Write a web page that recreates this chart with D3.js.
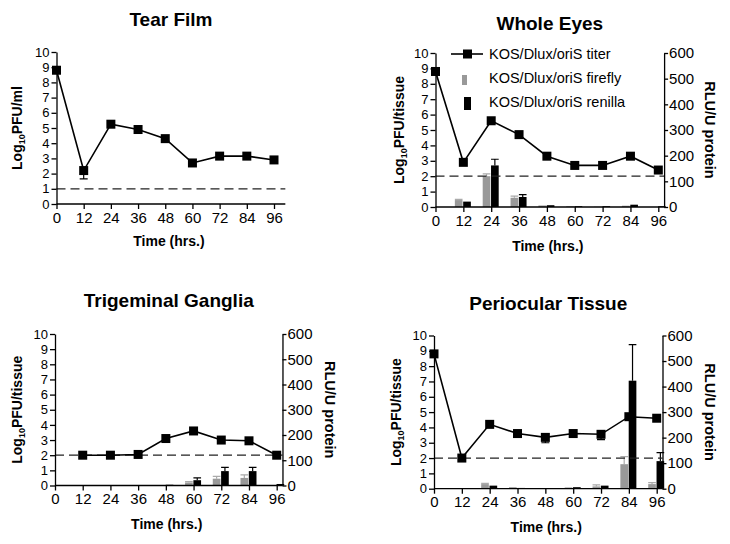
<!DOCTYPE html>
<html>
<head>
<meta charset="utf-8">
<script src="https://cdn.jsdelivr.net/npm/d3@7"></script>
<style>
body { margin: 0; background: #fff; }
svg text { font-family: "Liberation Sans", Arial, sans-serif; fill: #000; }
.axis path, .axis line { stroke: #000; stroke-width: 1.3; }
.axis text { font-size: 15px; }
.axis.left text { font-size: 13px; }
</style>
</head>
<body>
<div id="chart"></div>
<script>
// time points (hrs.)
var hours = [0, 12, 24, 36, 48, 60, 72, 84, 96];
var titerTicks = [0, 1, 2, 3, 4, 5, 6, 7, 8, 9, 10];
var rluTicks = [0, 100, 200, 300, 400, 500, 600];

// Tear film titer (log10 PFU/ml)
var tearTiter = [8.8, 2.2, 5.25, 4.9, 4.3, 2.7, 3.15, 3.15, 2.9];
var tearTiterErr = [0, 0.55, 0, 0, 0.15, 0, 0, 0, 0];

// Whole eyes
var eyeTiter = [8.8, 2.9, 5.6, 4.7, 3.3, 2.7, 2.7, 3.3, 2.4];
var eyeTiterErr = [0, 0, 0, 0, 0, 0, 0, 0, 0];
var eyeFirefly = [null, 27, 120, 36, 6, 3, 1, 5, 0];
var eyeFireflyErr = [0, 3, 9, 6, 0, 0, 0, 0, 0];
var eyeRenilla = [null, 21, 162, 39, 7, 3, 3, 9, 3];
var eyeRenillaErr = [0, 0, 24, 9, 0, 0, 0, 0, 0];

// Trigeminal ganglia
var tgTiter = [null, 2.0, 2.0, 2.05, 3.1, 3.6, 3.0, 2.95, 2.0];
var tgTiterErr = [0, 0, 0, 0, 0.15, 0, 0, 0, 0];
var tgFirefly = [null, 0, 0, 0, 0, 12, 27, 30, 1];
var tgFireflyErr = [0, 0, 0, 0, 0, 3, 9, 12, 0];
var tgRenilla = [null, 0, 0, 0, 3, 21, 57, 57, 6];
var tgRenillaErr = [0, 0, 0, 0, 0, 9, 15, 15, 0];

// Periocular tissue
var periTiter = [8.8, 2.0, 4.2, 3.6, 3.35, 3.6, 3.55, 4.7, 4.6];
var periTiterErr = [0, 0, 0, 0, 0.35, 0, 0.35, 0, 0];
var periFirefly = [null, 0, 18, 6, 2, 5, 9, 96, 18];
var periFireflyErr = [0, 0, 3, 0, 0, 0, 6, 30, 6];
var periRenilla = [null, 0, 12, 3, 2, 6, 12, 423, 108];
var periRenillaErr = [0, 0, 0, 0, 0, 0, 0, 141, 33];

var legendLabels = ["KOS/Dlux/oriS titer", "KOS/Dlux/oriS firefly", "KOS/Dlux/oriS renilla"];

var panels = [
  {title: 'Tear Film', unit: 'ml', x0: 56.5, x96: 274, xMax: 101, yTop: 52, yBot: 204, limit: 1,
   titer: tearTiter, titerErr: tearTiterErr, titleY: 26, labelX: 22, xLabY: 246, dual: false},
  {title: 'Whole Eyes', unit: 'tissue', x0: 435.5, x96: 658.3, xMax: 98.5, yTop: 53, yBot: 207, limit: 2,
   titer: eyeTiter, titerErr: eyeTiterErr, firefly: eyeFirefly, fireflyErr: eyeFireflyErr,
   renilla: eyeRenilla, renillaErr: eyeRenillaErr, titleY: 30, labelX: 404, rLabX: 705, xLabY: 251, dual: true, legend: true},
  {title: 'Trigeminal Ganglia', unit: 'tissue', x0: 55, x96: 276.7, xMax: 98.5, yTop: 334, yBot: 485.5, limit: 2,
   titer: tgTiter, titerErr: tgTiterErr, firefly: tgFirefly, fireflyErr: tgFireflyErr,
   renilla: tgRenilla, renillaErr: tgRenillaErr, titleY: 307, labelX: 22, rLabX: 325, xLabY: 529, dual: true},
  {title: 'Periocular Tissue', unit: 'tissue', x0: 434, x96: 656.7, xMax: 98.5, yTop: 335.5, yBot: 488.7, limit: 2,
   titer: periTiter, titerErr: periTiterErr, firefly: periFirefly, fireflyErr: periFireflyErr,
   renilla: periRenilla, renillaErr: periRenillaErr, titleY: 310, labelX: 401, rLabX: 705, xLabY: 532, dual: true}
];

var svg = d3.select('#chart')
  .append('svg')
  .attr('width', 730)
  .attr('height', 544);

panels.forEach(function(p) {
  var x = d3.scaleLinear()
    .domain([0, 96])
    .range([p.x0, p.x96]);
  var xEnd = x(p.xMax);
  var y = d3.scaleLinear().domain([0, 10]).range([p.yBot, p.yTop]);
  var yr = d3.scaleLinear().domain([0, 600]).range([p.yBot, p.yTop]);

  var g = svg.append('g');

  // bars
  if (p.dual) {
    var off = d3.scaleBand().domain(['firefly', 'renilla']).range([-8.5, 7.5]).paddingInner(0.08);
    var series = [
      {key: 'firefly', vals: p.firefly, err: p.fireflyErr, color: '#999', errColor: '#aaa'},
      {key: 'renilla', vals: p.renilla, err: p.renillaErr, color: '#000', errColor: '#000'}
    ];
    series.forEach(function(s) {
      var d = hours.map(function(h, i) { return {h: h, v: s.vals[i], e: s.err[i]}; })
        .filter(function(d) { return d.v != null && d.v > 0; });
      g.selectAll(null).data(d).enter().append('rect')
        .attr('x', function(d) { return x(d.h) + off(s.key); })
        .attr('y', function(d) { return yr(d.v); })
        .attr('width', off.bandwidth())
        .attr('height', function(d) { return yr(0) - yr(d.v); })
        .style('fill', s.color);
      var de = d.filter(function(d) { return d.e > 0; });
      g.selectAll(null).data(de).enter().append('path')
        .attr('d', function(d) {
          var cx = x(d.h) + off(s.key) + off.bandwidth() / 2;
          var w = off.bandwidth() / 2;
          return 'M' + cx + ',' + yr(d.v) + 'V' + yr(d.v + d.e) + 'M' + (cx - w) + ',' + yr(d.v + d.e) + 'H' + (cx + w);
        })
        .style('stroke', s.errColor)
        .style('stroke-width', 1.2)
        .style('fill', 'none');
    });
  }

  // detection limit
  g.append('line')
    .attr('x1', x(0)).attr('x2', xEnd)
    .attr('y1', y(p.limit)).attr('y2', y(p.limit))
    .style('stroke', '#222')
    .style('stroke-width', 1.3)
    .style('stroke-dasharray', '9,5');

  // axes
  g.append('g').attr('class', 'axis')
    .attr('transform', 'translate(0,' + p.yBot + ')')
    .call(d3.axisBottom(x).tickValues(hours).tickSize(5).tickSizeOuter(0).tickPadding(3))
    .select('.domain').attr('d', 'M' + x(0) + ',0H' + xEnd);

  g.append('g').attr('class', 'axis left')
    .attr('transform', 'translate(' + x(0) + ',0)')
    .call(d3.axisLeft(y).tickValues(titerTicks).tickSize(5).tickSizeOuter(0).tickPadding(2));

  if (p.dual) {
    g.append('g').attr('class', 'axis')
      .attr('transform', 'translate(' + xEnd + ',0)')
      .call(d3.axisRight(yr).tickValues(rluTicks).tickSize(4).tickSizeOuter(0).tickPadding(1));
  }

  // titer line
  var pts = hours.map(function(h, i) { return {h: h, v: p.titer[i], e: p.titerErr[i]}; })
    .filter(function(d) { return d.v != null; });
  g.selectAll(null).data(pts.filter(function(d) { return d.e > 0; })).enter().append('path')
    .attr('d', function(d) {
      return 'M' + x(d.h) + ',' + y(d.v) + 'V' + y(d.v - d.e) + 'M' + (x(d.h) - 4) + ',' + y(d.v - d.e) + 'H' + (x(d.h) + 4);
    })
    .style('stroke', '#000').style('stroke-width', 1.2).style('fill', 'none');
  g.append('path')
    .datum(pts)
    .attr('d', d3.line().x(function(d) { return x(d.h); }).y(function(d) { return y(d.v); }))
    .style('fill', 'none')
    .style('stroke', '#000')
    .style('stroke-width', 1.6);
  g.selectAll(null).data(pts).enter().append('rect')
    .attr('x', function(d) { return x(d.h) - 4.5; })
    .attr('y', function(d) { return y(d.v) - 4.5; })
    .attr('width', 9).attr('height', 9)
    .style('fill', '#000');

  // titles
  g.append('text')
    .attr('x', (x(0) + xEnd) / 2)
    .attr('y', p.titleY)
    .attr('text-anchor', 'middle')
    .style('font-size', '19px').style('font-weight', 'bold')
    .text(p.title);

  g.append('text')
    .attr('x', (x(0) + xEnd) / 2 - 2)
    .attr('y', p.xLabY)
    .attr('text-anchor', 'middle')
    .style('font-size', '14px').style('font-weight', 'bold')
    .text('Time (hrs.)');

  var yl = g.append('text')
    .attr('transform', 'translate(' + p.labelX + ',' + (p.yTop + p.yBot) / 2 + ') rotate(-90)')
    .attr('text-anchor', 'middle')
    .style('font-size', '14px').style('font-weight', 'bold');
  yl.append('tspan').text('Log');
  yl.append('tspan').attr('dy', 3).style('font-size', '9px').text('10');
  yl.append('tspan').attr('dy', -3).text('PFU/' + p.unit);

  if (p.dual) {
    g.append('text')
      .attr('transform', 'translate(' + p.rLabX + ',' + (p.yTop + p.yBot) / 2 + ') rotate(90)')
      .attr('text-anchor', 'middle')
      .style('font-size', '14.5px').style('font-weight', 'bold')
      .text('RLU/U protein');
  }

  // legend
  if (p.legend) {
    var lx = 451, ly = 54;
    g.append('line').attr('x1', lx).attr('x2', lx + 32).attr('y1', ly).attr('y2', ly)
      .style('stroke', '#000').style('stroke-width', 1.6);
    g.append('rect').attr('x', lx + 12).attr('y', ly - 4.5).attr('width', 9).attr('height', 9).style('fill', '#000');
    g.append('rect').attr('x', lx + 11).attr('y', ly + 21).attr('width', 5).attr('height', 10).style('fill', '#999');
    g.append('rect').attr('x', lx + 13).attr('y', ly + 43).attr('width', 7).attr('height', 13).style('fill', '#000');
    g.selectAll(null).data(legendLabels).enter().append('text')
      .attr('x', lx + 38)
      .attr('y', function(d, i) { return ly + 5 + i * 24; })
      .style('font-size', '14.5px')
      .text(function(d) { return d; });
  }
});
</script>
</body>
</html>
